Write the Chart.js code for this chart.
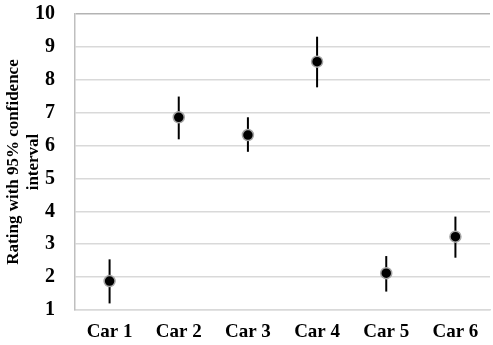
<!DOCTYPE html>
<html>
<head>
<meta charset="utf-8">
<script src="https://cdn.jsdelivr.net/npm/chart.js@4.4.0/dist/chart.umd.min.js"></script>
<style>
  html, body { margin: 0; padding: 0; background: #fff; overflow: hidden; }
  #wrap { width: 497px; height: 345px; }
</style>
</head>
<body>
<div id="wrap"><canvas id="grafico"></canvas></div>
<script>
const categorias = ["Car 1", "Car 2", "Car 3", "Car 4", "Car 5", "Car 6"];
const notas = [1.88, 6.86, 6.32, 8.55, 2.12, 3.23];
const limiteSuperior = [2.54, 7.49, 6.86, 9.31, 2.64, 3.84];
const limiteInferior = [1.2, 6.19, 5.81, 7.77, 1.56, 2.59];

const fonteSerif = "'Liberation Serif', 'Times New Roman', serif";

// desenha as barras de erro usando as escalas do gráfico
const barrasErro = {
  id: "barrasErro",
  beforeDatasetsDraw(chart) {
    const ctx = chart.ctx;
    const x = chart.scales.x;
    const y = chart.scales.y;
    ctx.save();
    ctx.strokeStyle = "#000";
    ctx.lineWidth = 2;
    categorias.forEach((cat, i) => {
      const px = x.getPixelForValue(i);
      ctx.beginPath();
      ctx.moveTo(px, y.getPixelForValue(limiteSuperior[i]));
      ctx.lineTo(px, y.getPixelForValue(limiteInferior[i]));
      ctx.stroke();
    });
    ctx.restore();
  },
};

const contexto = document.getElementById("grafico").getContext("2d");

new Chart(contexto, {
  type: "line",
  data: {
    labels: categorias,
    datasets: [
      {
        label: "Rating",
        data: notas,
        showLine: false,
        pointRadius: 5.5,
        pointBackgroundColor: "#000",
        pointBorderColor: "#a6a6a6",
        pointBorderWidth: 1.5,
      },
    ],
  },
  options: {
    responsive: true,
    maintainAspectRatio: false,
    animation: false,
    layout: { padding: 0 },
    plugins: {
      legend: { display: false },
      tooltip: { enabled: false },
    },
    scales: {
      x: {
        offset: true,
        grid: { display: false, drawTicks: false },
        border: { color: "#d9d9d9", width: 1.5 },
        ticks: {
          color: "#000",
          padding: 11,
          font: { family: fonteSerif, size: 19, weight: "bold" },
        },
        afterFit: (escala) => {
          escala.height = 35;
        },
      },
      y: {
        min: 1,
        max: 10,
        ticks: {
          stepSize: 1,
          color: "#000",
          padding: 20,
          font: { family: fonteSerif, size: 20, weight: "bold" },
        },
        grid: {
          drawTicks: false,
          lineWidth: 1.5,
          color: (c) => (c.tick && c.tick.value === 10 ? "#b3b3b3" : "#d9d9d9"),
        },
        border: { color: "#bfbfbf", width: 1.5 },
        title: {
          display: true,
          text: ["Rating with 95% confidence", "interval"],
          color: "#000",
          padding: { top: 3, bottom: 0 },
          font: { family: fonteSerif, size: 17, weight: "bold", lineHeight: 1.2 },
        },
        afterFit: (escala) => {
          escala.width = 75;
          escala.paddingTop = 14;
          escala.paddingBottom = 0;
        },
      },
    },
  },
  plugins: [barrasErro],
});
</script>
</body>
</html>
